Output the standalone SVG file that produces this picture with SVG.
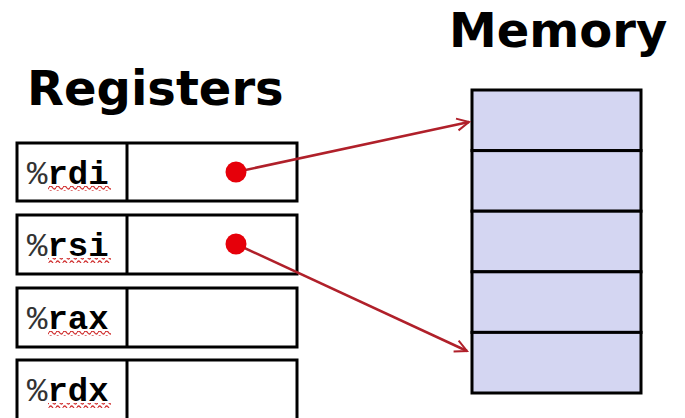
<svg xmlns="http://www.w3.org/2000/svg" width="685" height="418" viewBox="0 0 685 418">
  <style>
    .title { font-family: "DejaVu Sans", "Liberation Sans", sans-serif; font-weight: bold; font-size: 48px; fill: #000; }
    .reg { fill: #fff; stroke: #000; stroke-width: 3; }
    .div { stroke: #000; stroke-width: 3; }
    .pct { font-family: "Liberation Mono", "DejaVu Sans Mono", monospace; font-size: 34px; fill: #333; }
    .name { font-family: "Liberation Mono", "DejaVu Sans Mono", monospace; font-size: 34px; font-weight: bold; fill: #000; }
    .mem { fill: #d4d6f2; stroke: #000; stroke-width: 3; }
    .dot { fill: #e6000a; }
    .ptr { stroke: #b0202a; stroke-width: 2.5; fill: none; }
  </style>
  <defs>
    <!-- red wavy spell-check underline -->
    <pattern id="squiggle" width="7" height="5" patternUnits="userSpaceOnUse">
      <path d="M0,2.5 Q1.75,-0.5 3.5,2.5 T7,2.5" fill="none" stroke="#d03030" stroke-width="1.3"/>
    </pattern>
    <marker id="chevron" markerWidth="16" markerHeight="16" refX="14" refY="8" orient="auto" markerUnits="userSpaceOnUse">
      <path d="M2,2 L14,8 L2,14" fill="none" stroke="#b0202a" stroke-width="2"/>
    </marker>
  </defs>

  <text class="title" x="27" y="105">Registers</text>
  <text class="title" x="449" y="47">Memory</text>

  <!-- register file -->
  <g id="reg-rdi">
    <rect class="reg" x="17" y="143" width="280" height="58"/>
    <line class="div" x1="127" y1="143" x2="127" y2="201"/>
    <text x="27" y="184"><tspan class="pct">%</tspan><tspan class="name">rdi</tspan></text>
    <rect x="48" y="186" width="63" height="5" fill="url(#squiggle)"/>
  </g>
  <g id="reg-rsi">
    <rect class="reg" x="17" y="215" width="280" height="59"/>
    <line class="div" x1="127" y1="215" x2="127" y2="274"/>
    <text x="27" y="256"><tspan class="pct">%</tspan><tspan class="name">rsi</tspan></text>
    <rect x="48" y="258" width="63" height="5" fill="url(#squiggle)"/>
  </g>
  <g id="reg-rax">
    <rect class="reg" x="17" y="288" width="280" height="59"/>
    <line class="div" x1="127" y1="288" x2="127" y2="347"/>
    <text x="27" y="329"><tspan class="pct">%</tspan><tspan class="name">rax</tspan></text>
    <rect x="48" y="331" width="63" height="5" fill="url(#squiggle)"/>
  </g>
  <g id="reg-rdx">
    <rect class="reg" x="17" y="360" width="280" height="64"/>
    <line class="div" x1="127" y1="360" x2="127" y2="420"/>
    <text x="27" y="401"><tspan class="pct">%</tspan><tspan class="name">rdx</tspan></text>
    <rect x="48" y="403" width="63" height="5" fill="url(#squiggle)"/>
  </g>

  <!-- memory column -->
  <g id="memory">
    <rect class="mem" x="472" y="90" width="169" height="60.6"/>
    <rect class="mem" x="472" y="150.6" width="169" height="60.6"/>
    <rect class="mem" x="472" y="211.2" width="169" height="60.6"/>
    <rect class="mem" x="472" y="271.8" width="169" height="60.6"/>
    <rect class="mem" x="472" y="332.4" width="169" height="60.6"/>
  </g>

  <!-- pointers -->
  <g id="connectors">
    <line class="ptr" x1="236" y1="172" x2="469" y2="122" marker-end="url(#chevron)"/>
    <line class="ptr" x1="236" y1="244" x2="467" y2="351" marker-end="url(#chevron)"/>
    <circle class="dot" cx="236" cy="172" r="10.5"/>
    <circle class="dot" cx="236" cy="244" r="10.5"/>
  </g>
</svg>
